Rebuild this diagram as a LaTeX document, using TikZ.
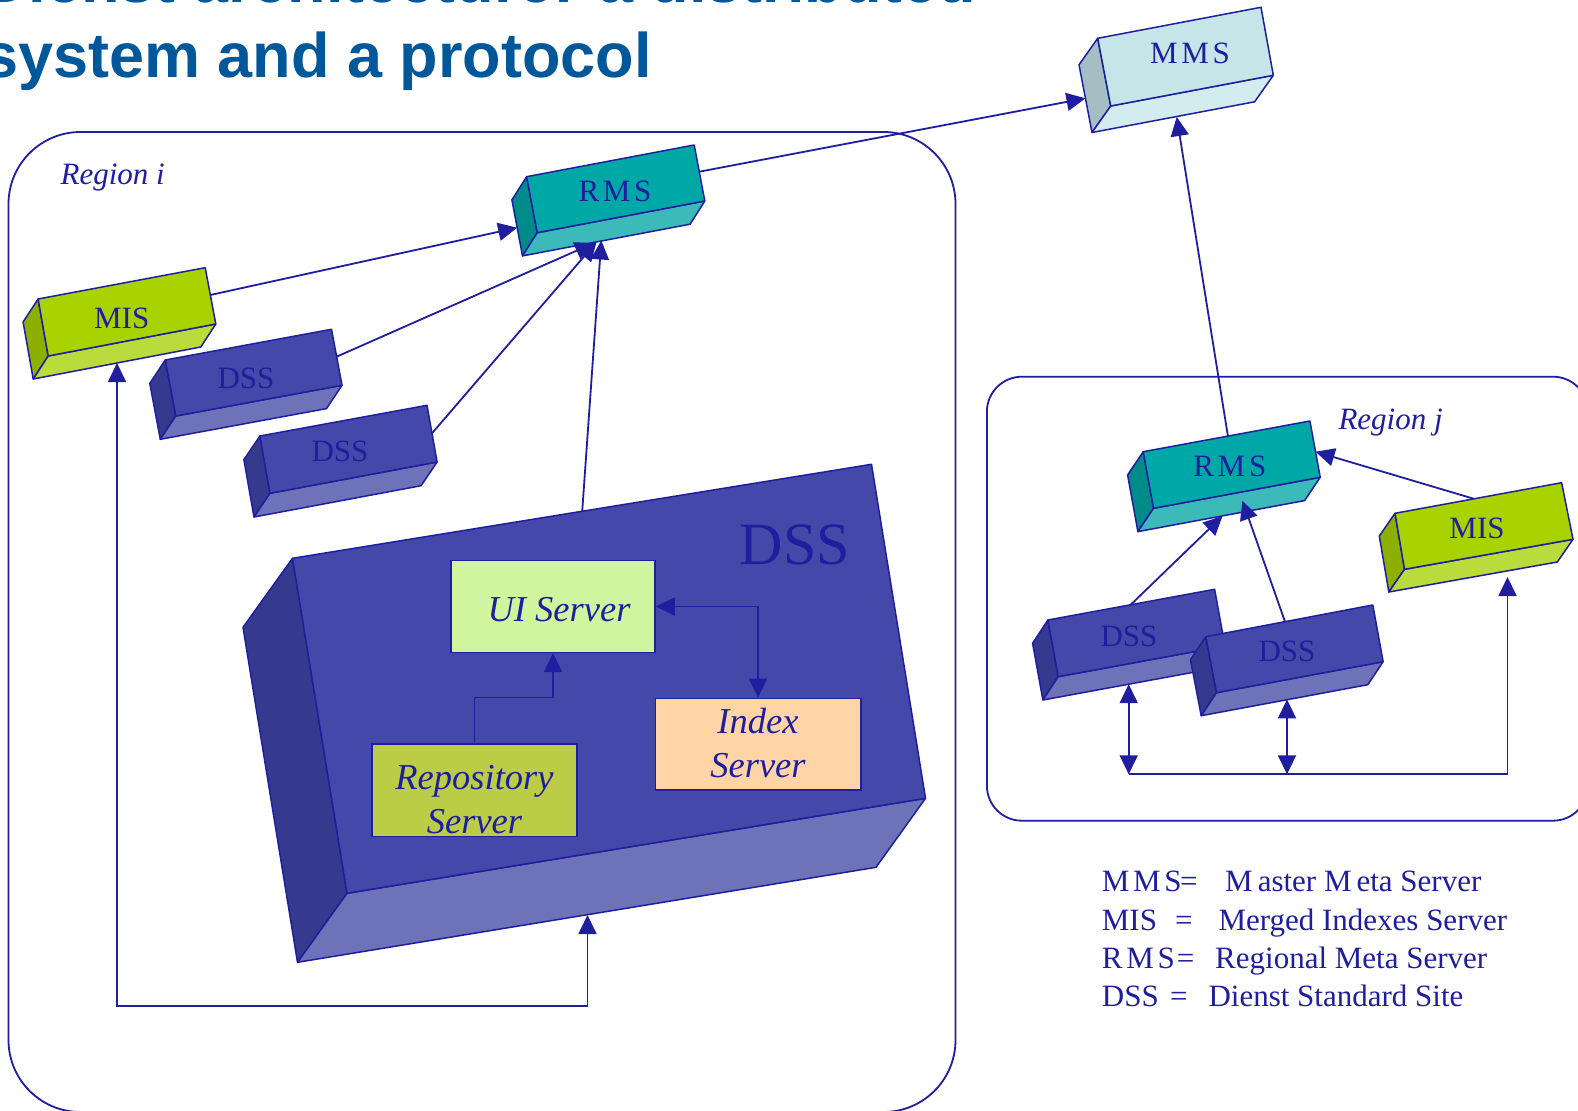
\documentclass[tikz,border=0pt]{standalone}
\usepackage{fontspec}
\setmainfont{Liberation Serif}
\newfontfamily\titlefont{Liberation Sans}
\newfontfamily\spacedfont[LetterSpace=12]{Liberation Serif}
\usetikzlibrary{arrows.meta,calc}
\definecolor{ink}{HTML}{1E1E9E}
\definecolor{titleblue}{HTML}{00589B}
\definecolor{mmsF}{HTML}{C6E5E9}
\definecolor{mmsS}{HTML}{A4BFC3}
\definecolor{mmsB}{HTML}{D2ECEF}
\definecolor{rmsF}{HTML}{00A7A7}
\definecolor{rmsS}{HTML}{008B8B}
\definecolor{rmsB}{HTML}{3CB9B9}
\definecolor{misF}{HTML}{A9D300}
\definecolor{misS}{HTML}{8DB000}
\definecolor{misB}{HTML}{B9DC3C}
\definecolor{dssF}{HTML}{4448A8}
\definecolor{dssS}{HTML}{363A8E}
\definecolor{dssB}{HTML}{6E72B8}
\definecolor{uiF}{HTML}{CFF59F}
\definecolor{idxF}{HTML}{FFD5A8}
\definecolor{repoF}{HTML}{BBCC46}
\tikzset{
  boxedge/.style={draw=ink,line width=1.5pt,line join=round},
  regionbox/.style={draw=ink,line width=1.8pt},
  arr/.style={draw=ink,line width=1.8pt,-{Triangle[length=19pt,width=18pt]}},
  arrboth/.style={draw=ink,line width=1.8pt,{Triangle[length=19pt,width=18pt]}-{Triangle[length=19pt,width=18pt]}},
  plainline/.style={draw=ink,line width=1.8pt},
  lbl/.style={text=ink,inner sep=0pt,font=\fontsize{31}{36}\selectfont},
  slbl/.style={text=ink,inner sep=0pt,font=\spacedfont\fontsize{31}{36}\selectfont},
  itl/.style={text=ink,inner sep=0pt,align=center,font=\itshape\fontsize{36.5}{44}\selectfont},
  reglbl/.style={text=ink,inner sep=0pt,anchor=base west,font=\itshape\fontsize{31}{36}\selectfont},
  legend/.style={text=ink,inner sep=0pt,anchor=base west,font=\fontsize{31}{36}\selectfont},
  slegend/.style={text=ink,inner sep=0pt,anchor=base west,font=\spacedfont\fontsize{31}{36}\selectfont},
  innerbox/.style={draw=ink,line width=1.5pt,inner sep=0pt},
  titlestyle/.style={text=titleblue,inner sep=0pt,anchor=base west,font=\titlefont\bfseries\fontsize{63}{70}\selectfont}
}
\newcommand\prism[9]{%
  \coordinate (#1-tl) at (#2);
  \coordinate (#1-tr) at (#3);
  \coordinate (#1-br) at (#4);
  \coordinate (#1-bl) at (#5);
  \coordinate (#1-ltb) at ($(#1-tl)+(#6)$);
  \coordinate (#1-lbb) at ($(#1-bl)+(#6)$);
  \coordinate (#1-bbr) at ($(#1-br)+(#6)$);
  \filldraw[boxedge,fill=#8] (#1-tl)--(#1-ltb)--(#1-lbb)--(#1-bl)--cycle;
  \filldraw[boxedge,fill=#9] (#1-bl)--(#1-lbb)--(#1-bbr)--(#1-br)--cycle;
  \filldraw[boxedge,fill=#7] (#1-tl)--(#1-tr)--(#1-br)--(#1-bl)--cycle;
}
\begin{document}
\begin{tikzpicture}[x=1pt,y=-1pt]
\useasboundingbox (0,0) rectangle (1578,1110);
\clip (0,0) rectangle (1578,1110);
\fill[white] (0,0) rectangle (1578,1110);

% title
\node[titlestyle] (title1) at (-17,2.5) {Dienst architecture: a distributed};
\node[titlestyle] (title2) at (-17,77.3) {system and a protocol};

% regions
\draw[regionbox,rounded corners=72pt] (8.5,132) rectangle (955.5,1112);
\draw[regionbox,rounded corners=35pt] (986.9,376.7) rectangle (1588,820.7);
\node[reglbl] (regi) at (60.4,184.3) {Region i};
\node[reglbl] (regj) at (1338.3,429.3) {Region j};

% prisms
\prism{mms}{1097.7,38.3}{1261,7.3}{1273.3,75.3}{1110.7,106}{-18.7,26.5}{mmsF}{mmsS}{mmsB}
\prism{rmsi}{526.6,176.7}{694.2,145}{704.8,201}{537.2,232.7}{-14.7,23.2}{rmsF}{rmsS}{rmsB}
\prism{misi}{38.1,299}{205.2,267.7}{215.8,324}{48.2,356}{-15,23}{misF}{misS}{misB}
\prism{dssia}{165.3,360}{331.5,329.3}{342,385.3}{175.8,416}{-15.5,23.3}{dssF}{dssS}{dssB}
\prism{dssib}{259.9,436}{427,405.3}{437.1,462}{270,493.3}{-16,23.7}{dssF}{dssS}{dssB}
\prism{big}{292.5,558.3}{871.5,464.3}{925.5,798.3}{347,893.3}{-49.5,69}{dssF}{dssS}{dssB}
\prism{rmsj}{1143.2,451.7}{1309.9,421}{1320.2,477.3}{1153.5,508.3}{-15.6,23.3}{rmsF}{rmsS}{rmsB}
\prism{misj}{1395,513.3}{1561.6,482.7}{1573,539.3}{1404.5,569.3}{-15.7,22.7}{misF}{misS}{misB}
\prism{dssja}{1047.9,620}{1214.6,589.3}{1224.9,646}{1058.2,676.7}{-15.3,23.3}{dssF}{dssS}{dssB}
\prism{dssjb}{1205.8,636.7}{1372.8,605}{1383.1,661.7}{1216.5,692.7}{-15.3,23}{dssF}{dssS}{dssB}

% prism labels
\node[slbl] (mms) at (1190,53.3) {MMS};
\node[slbl] (rmsi) at (615,191.7) {RMS};
\node[lbl] (misi) at (121.7,318.3) {MIS};
\node[lbl] (dssia) at (246,378.3) {DSS};
\node[lbl] (dssib) at (340,451) {DSS};
\node[text=ink,inner sep=0pt,font=\fontsize{60}{66}\selectfont] (bigdss) at (795,545) {DSS};
\node[slbl] (rmsj) at (1229.8,466.7) {RMS};
\node[lbl] (misj) at (1477,528.3) {MIS};
\node[lbl] (dssja) at (1129,636.5) {DSS};
\node[lbl] (dssjb) at (1287,651.5) {DSS};

% inner servers
\node[innerbox,fill=uiF,minimum width=204pt,minimum height=91.6pt] (ui) at (553,606.5) {};
\node[innerbox,fill=idxF,minimum width=205.4pt,minimum height=91.7pt] (idx) at (758.1,744.2) {};
\node[innerbox,fill=repoF,minimum width=205pt,minimum height=92.7pt] (repo) at (474.5,790.3) {};
\node[itl] (uitxt) at (559,610) {UI Server};
\node[itl] (idxtxt) at (758,743) {Index\\Server};
\node[itl] (repotxt) at (474.5,800) {Repository\\Server};
\draw[arr] (repo.north) -- ++(0,-45.7) -| (ui.south);
\draw[arrboth] (ui.east) -| (idx.north);

% connector end points
\coordinate (c-misi-out) at (210.3,295);
\coordinate (c-rmsi-left) at (517.2,227.7);
\coordinate (c-dssia-out) at (336.6,356.7);
\coordinate (c-dssib-out) at (432,433.3);
\coordinate (c-big-top) at (582.2,511.3);
\coordinate (c-rmsi-b1) at (594,243);
\coordinate (c-rmsi-b2) at (596.5,242);
\coordinate (c-rmsi-b3) at (601.3,240.5);
\coordinate (c-rmsi-out) at (699.3,171.7);
\coordinate (c-mms-left) at (1085.5,98.3);
\coordinate (c-mms-bot) at (1176.7,117);
\coordinate (c-rmsj-top) at (1227.9,436.1);
\coordinate (c-misj-top) at (1473.9,498.8);
\coordinate (c-rmsj-right) at (1315.5,451.7);
\coordinate (c-dssja-top) at (1130.6,604.8);
\coordinate (c-dssjb-top) at (1285,621.7);
\coordinate (c-rmsj-b1) at (1222.5,516);
\coordinate (c-rmsj-b2) at (1242.4,500.7);
\coordinate (c-dssja-bot) at (1128.7,684.2);
\coordinate (c-dssjb-bot) at (1287,699.4);
\coordinate (c-busj-a) at (1128.7,774.3);
\coordinate (c-busj-b) at (1287,774.3);
\coordinate (c-busj-c) at (1507.5,774.3);
\coordinate (c-misj-bot) at (1507.5,577);
\coordinate (c-misi-bot) at (117,363);
\coordinate (c-busi) at (587.5,1006);
\coordinate (c-big-bot) at (587.5,915);

% connectors region i
\draw[arr] (c-misi-out) -- (c-rmsi-left);
\draw[arr] (c-dssia-out) -- (c-rmsi-b1);
\draw[arr] (c-dssib-out) -- (c-rmsi-b2);
\draw[arr] (c-big-top) -- (c-rmsi-b3);
\draw[arr] (c-rmsi-out) -- (c-mms-left);
\draw[arrboth] (c-misi-bot) |- (c-busi) -- (c-big-bot);

% connectors region j
\draw[arr] (c-rmsj-top) -- (c-mms-bot);
\draw[arr] (c-misj-top) -- (c-rmsj-right);
\draw[arr] (c-dssja-top) -- (c-rmsj-b1);
\draw[arr] (c-dssjb-top) -- (c-rmsj-b2);
\draw[arrboth] (c-dssja-bot) -- (c-busj-a);
\draw[arrboth] (c-dssjb-bot) -- (c-busj-b);
\draw[arr] (c-busj-a) -- (c-busj-c) -- (c-misj-bot);

% legend
\node[slegend] (lg1a) at (1101.7,891.7) {MMS};
\node[legend] (lg1b) at (1180,891.7) {=};
\node[legend] (lg1c) at (1225,891.7) {M\kern5pt aster M\kern5pt eta Server};
\node[legend] (lg2a) at (1101.7,930) {MIS};
\node[legend] (lg2b) at (1175,930) {=};
\node[legend] (lg2c) at (1218.3,930) {Merged Indexes Server};
\node[slegend] (lg3a) at (1101.7,968.3) {RMS};
\node[legend] (lg3b) at (1176.7,968.3) {=};
\node[legend] (lg3c) at (1215,968.3) {Regional Meta Server};
\node[legend] (lg4a) at (1101.7,1006) {DSS};
\node[legend] (lg4b) at (1170,1006) {=};
\node[legend] (lg4c) at (1208.3,1006) {Dienst Standard Site};
\end{tikzpicture}
\end{document}
